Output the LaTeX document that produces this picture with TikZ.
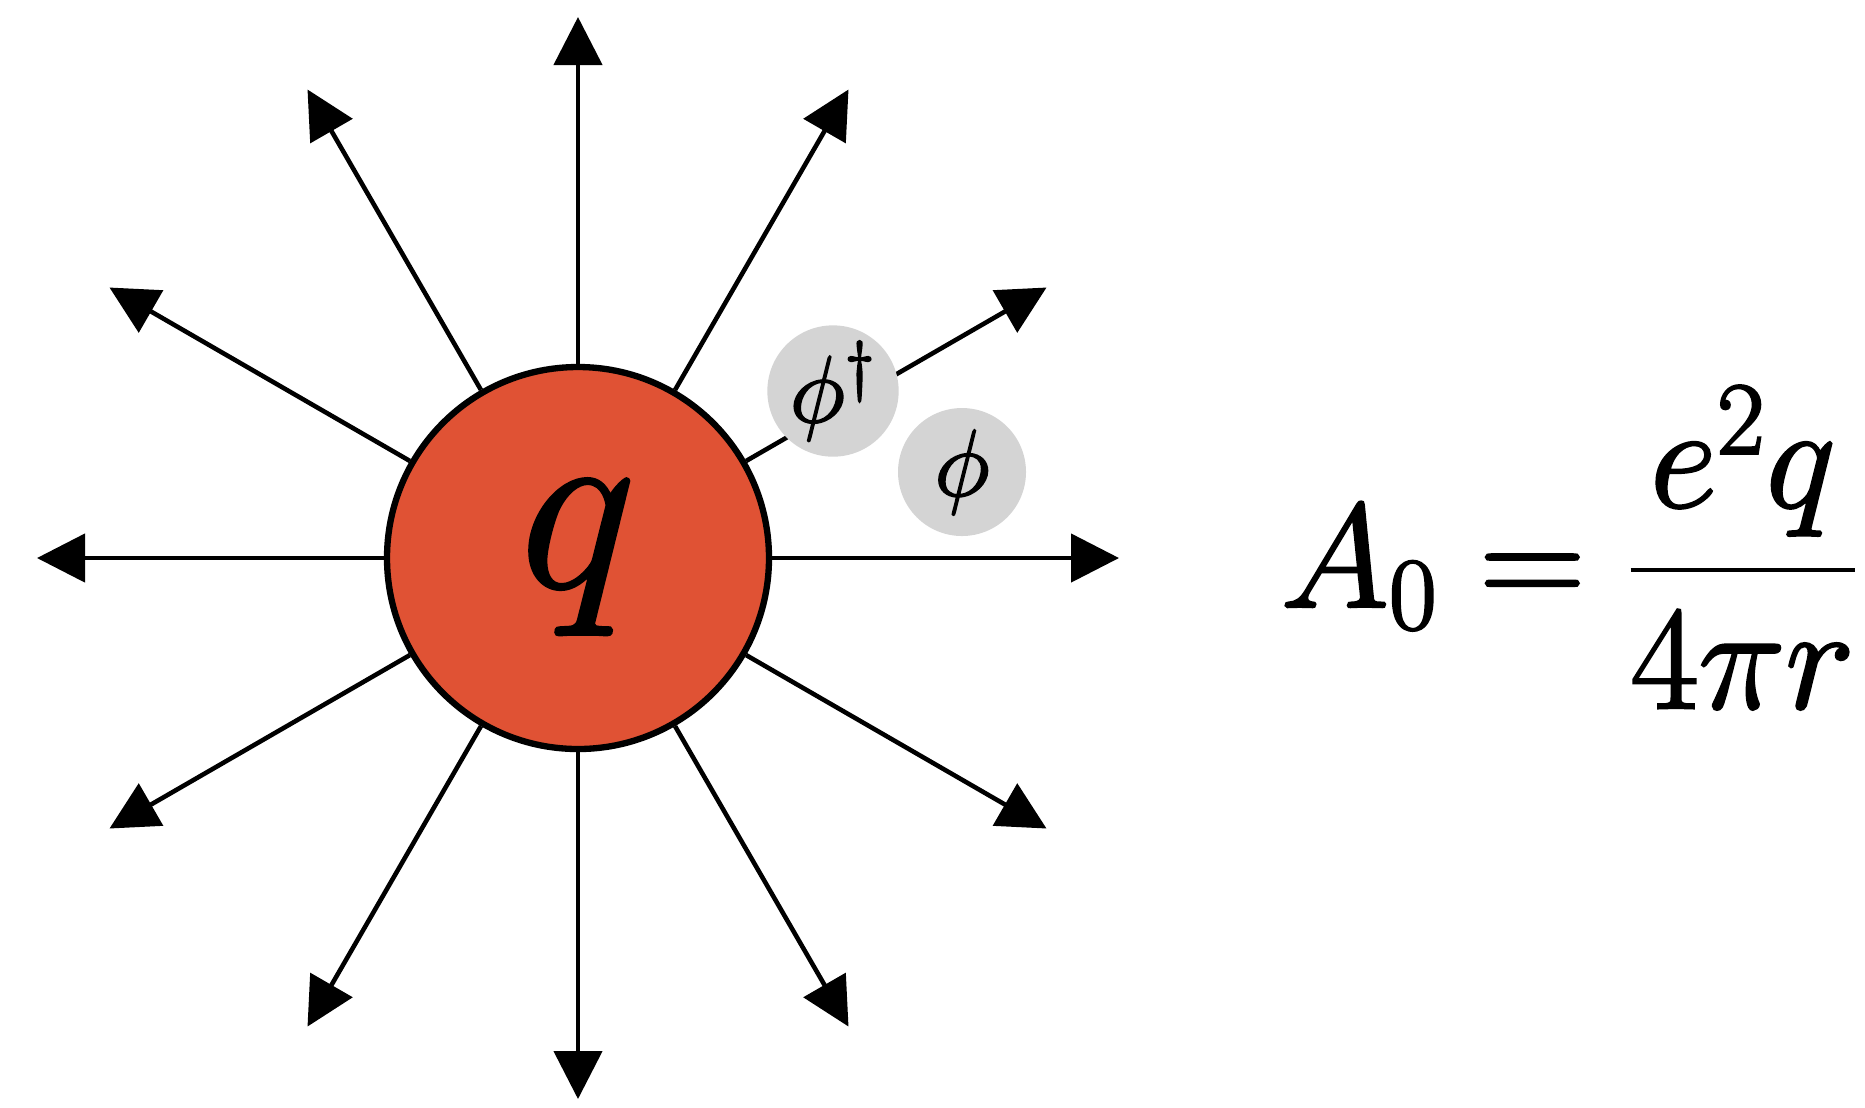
\RequirePackage{fix-cm}
\documentclass[tikz,border=0pt]{standalone}
\usepackage{amsmath}
\usepackage{tikz}
\usetikzlibrary{arrows.meta}

\definecolor{chargered}{RGB}{224,82,52}
\definecolor{fieldgray}{RGB}{212,212,212}

% thicker glyphs: fill and stroke the outlines
\newcommand{\heavy}[2]{\special{pdf:literal direct 2 Tr #1 w}#2\special{pdf:literal direct 0 Tr}}

\begin{document}
\begin{tikzpicture}[
        charge/.style={draw, circle, line width=1.8pt, fill=chargered,
                       minimum size=3.82cm, inner sep=0pt,
                       font=\fontsize{70}{80}\selectfont},
        quantum/.style={circle, fill=fieldgray, minimum size=1.28cm,
                        inner sep=0pt, font=\fontsize{27}{32}\selectfont},
        arrow/.style={-{Triangle[length=4.8mm,width=4.8mm]}, line width=1.3pt}
    ]
        \useasboundingbox (0,0) rectangle (18.65,-11.07);

        \node[charge] (q) at (5.78,-5.58) {\heavy{0.9}{$q$}};

        \coordinate (tip0) at ([shift={(0:5.41)}]q.center);
        \coordinate (tip30) at ([shift={(30:5.41)}]q.center);
        \coordinate (tip60) at ([shift={(60:5.41)}]q.center);
        \coordinate (tip90) at ([shift={(90:5.41)}]q.center);
        \coordinate (tip120) at ([shift={(120:5.41)}]q.center);
        \coordinate (tip150) at ([shift={(150:5.41)}]q.center);
        \coordinate (tip180) at ([shift={(180:5.41)}]q.center);
        \coordinate (tip210) at ([shift={(210:5.41)}]q.center);
        \coordinate (tip240) at ([shift={(240:5.41)}]q.center);
        \coordinate (tip270) at ([shift={(270:5.41)}]q.center);
        \coordinate (tip300) at ([shift={(300:5.41)}]q.center);
        \coordinate (tip330) at ([shift={(330:5.41)}]q.center);

        \draw[arrow] (q.0) -- (tip0);
        \draw[arrow] (q.30) -- (tip30);
        \draw[arrow] (q.60) -- (tip60);
        \draw[arrow] (q.90) -- (tip90);
        \draw[arrow] (q.120) -- (tip120);
        \draw[arrow] (q.150) -- (tip150);
        \draw[arrow] (q.180) -- (tip180);
        \draw[arrow] (q.210) -- (tip210);
        \draw[arrow] (q.240) -- (tip240);
        \draw[arrow] (q.270) -- (tip270);
        \draw[arrow] (q.300) -- (tip300);
        \draw[arrow] (q.330) -- (tip330);

        \node[quantum] (phidag) at (8.33,-3.91) {\heavy{0.5}{$\phi^{\dagger}$}};
        \node[quantum] (phi) at (9.62,-4.72) {\heavy{0.5}{$\phi$}};

        \node[anchor=base west, inner sep=0pt, font=\fontsize{42}{50}\selectfont]
            (potential) at (12.80,-6.07) {\heavy{0.7}{$\displaystyle A_0 = \frac{e^2q}{4\pi r}$}};
    \end{tikzpicture}
\end{document}
